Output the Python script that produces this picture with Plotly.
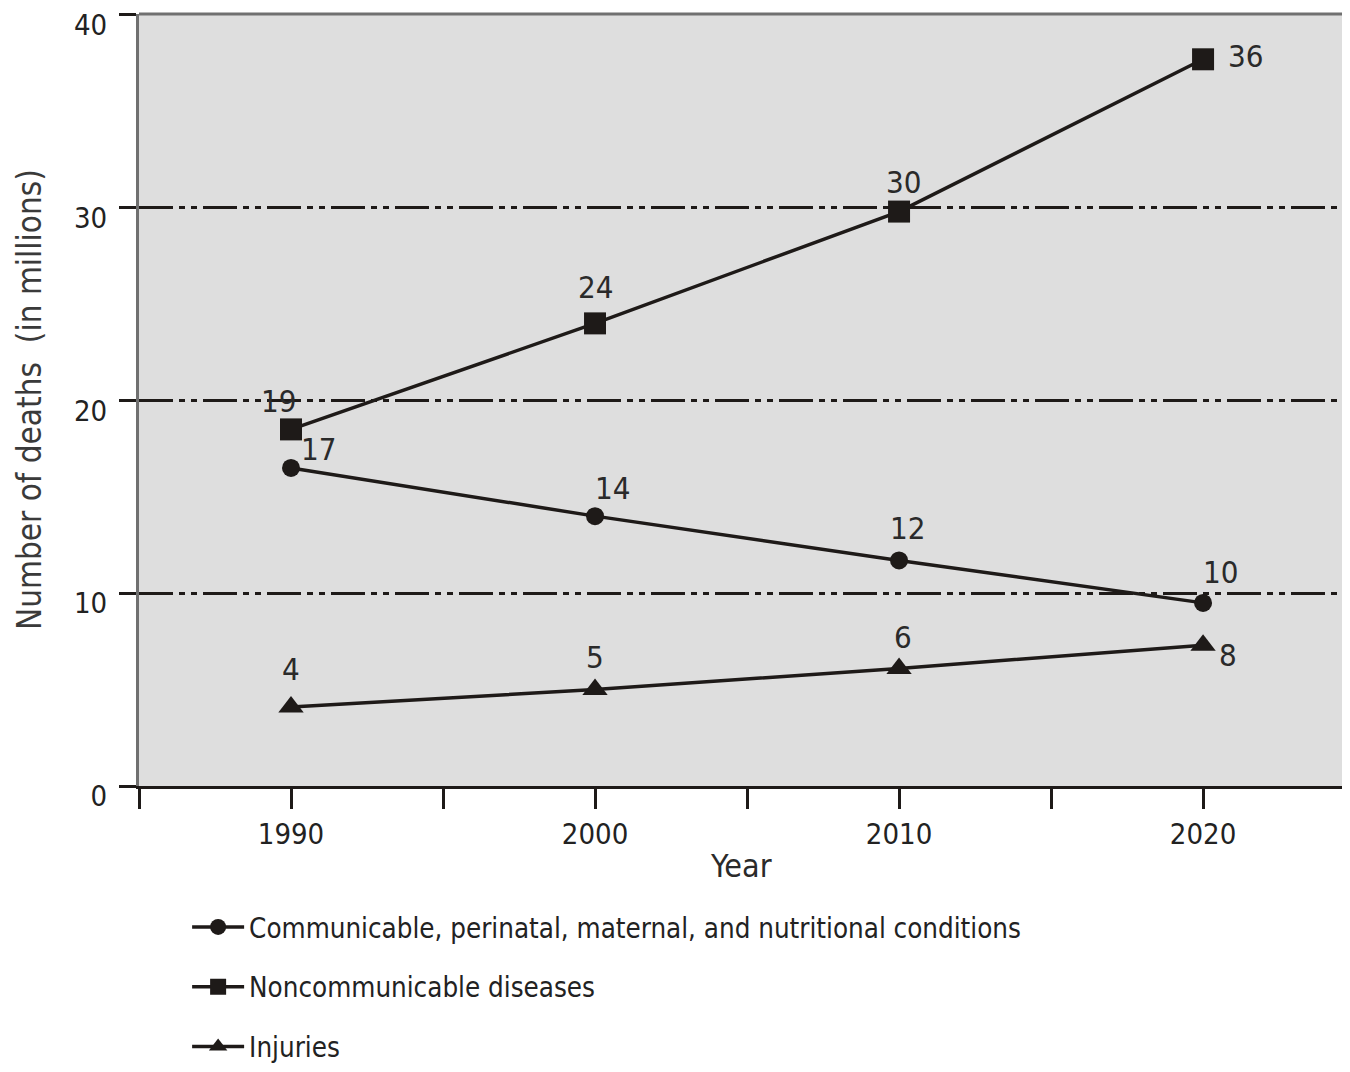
import plotly.graph_objects as go

years = [1990, 2000, 2010, 2020]
communicable = [16.5, 14.0, 11.7, 9.5]
noncommunicable = [18.5, 24.0, 29.8, 37.7]
injuries = [4.1, 5.0, 6.1, 7.3]

labels_communicable = ["17", "14", "12", "10"]
labels_noncommunicable = ["19", "24", "30", "36"]
labels_injuries = ["4", "5", "6", "8"]

names = ["Communicable, perinatal, maternal, and nutritional conditions",
         "Noncommunicable diseases",
         "Injuries"]

y_ticks = [0, 10, 20, 30, 40]
x_ticks = [1985, 1990, 1995, 2000, 2005, 2010, 2015, 2020]
x_ticktext = ["", "1990", "", "2000", "", "2010", "", "2020"]

FONT = "Liberation Sans Narrow, DejaVu Sans Condensed, Arial Narrow, sans-serif"
INK = "#1e1a18"

# pixel offsets of data labels (style only)
off_comm = [(27, 19), (17, 28), (8, 32), (17, 31)]
off_ncd = [(-13, 28), (0, 36), (4, 30), (42, 3)]
off_inj = [(0, 38), (0, 33), (4, 31), (25, -10)]

fig = go.Figure()
series = [
    (communicable, names[0], "circle", 18, labels_communicable, off_comm),
    (noncommunicable, names[1], "square", 22, labels_noncommunicable, off_ncd),
    (injuries, names[2], "triangle-up", 22, labels_injuries, off_inj),
]
annotations = []
for i, (vals, name, sym, size, labs, offs) in enumerate(series):
    fig.add_trace(go.Scatter(
        x=years, y=vals, name=name, mode="lines+markers",
        line=dict(color=INK, width=3.5),
        marker=dict(symbol=sym, size=size, color=INK),
        legendgroup=f"g{i}",
    ))
    for xv, yv, lab, (dx, dy) in zip(years, vals, labs, offs):
        annotations.append(dict(
            x=xv, y=yv, xref="x", yref="y", text=lab, showarrow=False,
            xshift=dx, yshift=dy,
            font=dict(family=FONT, size=31, color="#2a2a2a"),
        ))

annotations.append(dict(
    x=0, y=0.5, xref="paper", yref="paper", text="Number of deaths  (in millions)",
    textangle=-90, showarrow=False, xshift=-110, xanchor="center", yanchor="middle",
    font=dict(family=FONT, size=33, color="#3a3a3a"),
))
annotations.append(dict(
    x=0.5, y=0, xref="paper", yref="paper", text="Year",
    showarrow=False, yshift=-80, xanchor="center", yanchor="middle",
    font=dict(family=FONT, size=32, color="#2a2a2a"),
))

fig.update_layout(
    width=1334, height=1056,
    margin=dict(l=131, r=0, t=6, b=278, autoexpand=False),
    paper_bgcolor="white",
    plot_bgcolor="#dedede",
    showlegend=True,
    legend=dict(
        x=0.04, y=-0.151, xanchor="left", yanchor="top",
        orientation="v", tracegroupgap=21,
        font=dict(family=FONT, size=27.5, color="#222"),
        bgcolor="rgba(0,0,0,0)", itemwidth=52,
    ),
    annotations=annotations,
    shapes=[dict(type="line", xref="paper", yref="paper", x0=0, x1=1, y0=1, y1=1,
                 line=dict(color="#707070", width=3))],
)

fig.update_xaxes(
    range=[1985, 2024.57], tickvals=x_ticks, ticktext=x_ticktext,
    showgrid=False, zeroline=False,
    showline=True, linecolor=INK, linewidth=3,
    ticks="outside", ticklen=20, tickwidth=3, tickcolor=INK,
    tickfont=dict(family=FONT, size=29, color="#222"),
)
fig.update_yaxes(
    range=[0, 40.05], tickvals=y_ticks,
    showgrid=True, gridcolor=INK, gridwidth=3,
    griddash="34px,6px,6px,6px,6px,6px",
    zeroline=False,
    showline=True, linecolor="#707070", linewidth=3,
    ticks="outside", ticklen=17, tickwidth=3, tickcolor=INK,
    ticklabelstandoff=6, ticklabelshift=10, ticklabeloverflow="allow",
    tickfont=dict(family=FONT, size=29, color="#222"),
)

fig.write_html("out.html")
